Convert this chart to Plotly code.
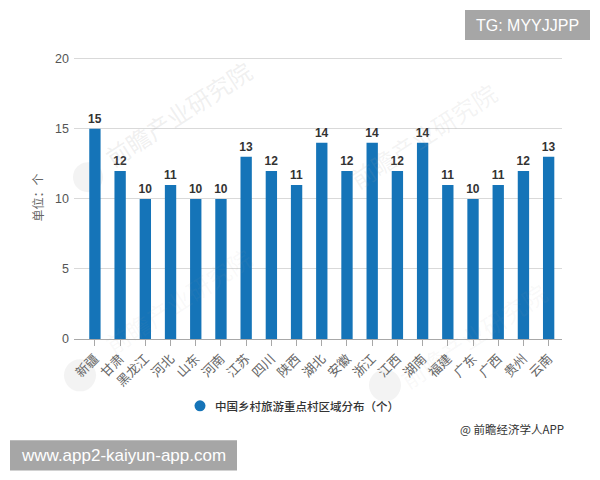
import plotly.graph_objects as go

# Data
provinces = ["新疆", "甘肃", "黑龙江", "河北", "山东", "河南", "江苏", "四川", "陕西", "湖北",
             "安徽", "浙江", "江西", "湖南", "福建", "广东", "广西", "贵州", "云南"]
villages = [15, 12, 10, 11, 10, 10, 13, 12, 11, 14, 12, 14, 12, 14, 11, 10, 11, 12, 13]
y_ticks = [0, 5, 10, 15, 20]
series_name = "中国乡村旅游重点村区域分布（个）"

BLUE = "#1574b8"
GREY_TAG = "#a6a6a6"
CJK = "Noto Sans CJK SC"

# the page body has an 8px margin, so the figure is 592x472 and starts at (8, 8)
FIG_W, FIG_H = 592, 472
# top sits 3px above the 20 gridline, plotly clips gridlines within 1px of the axis end
LEFT, RIGHT, TOP, BOTTOM = 74, 562, 55.9, 338.7


def px(x):
    return (x - LEFT) / (RIGHT - LEFT)


def py(y):
    return (BOTTOM - y) / (BOTTOM - TOP)


fig = go.Figure()

fig.add_trace(go.Bar(
    x=provinces,
    y=villages,
    marker=dict(color=BLUE, line=dict(width=0)),
    text=villages,
    textposition="outside",
    constraintext="none",
    cliponaxis=False,
    textfont=dict(family="Liberation Sans", size=12, color="#333333", weight="bold"),
    showlegend=False,
))

fig.update_layout(
    width=FIG_W,
    height=FIG_H,
    autosize=False,
    margin=dict(l=LEFT - 8, r=FIG_W + 8 - RIGHT, t=TOP - 8, b=FIG_H + 8 - BOTTOM),
    paper_bgcolor="white",
    plot_bgcolor="white",
    bargap=0.55,
    showlegend=False,
    font=dict(family=CJK, color="#666666"),
)

fig.update_xaxes(
    type="category",
    range=[-0.83, 18.53],
    showgrid=False,
    showline=True, linecolor="#a8a8a8", linewidth=1,
    ticks="outside", ticklen=6, tickcolor="#a8a8a8",
    tickangle=-45,
    tickfont=dict(family=CJK, size=13, color="#666666"),
)
fig.update_yaxes(
    range=[0, 20.2],
    tickvals=y_ticks,
    showgrid=True, gridcolor="#d9d9d9", gridwidth=1,
    zeroline=False,
    ticks="",
    ticklabelstandoff=4,
    tickfont=dict(family="Liberation Sans", size=12.5, color="#555555"),
    title=dict(text="单位：个", font=dict(family=CJK, size=12, color="#666666"), standoff=8),
)

# faint publisher watermarks, the lower two run across the bars so keep them lighter
for cx, cy, alpha in [(178, 113, 0.17), (423, 135, 0.13), (178, 300, 0.07), (473, 335, 0.08)]:
    fig.add_annotation(
        xref="paper", yref="paper", x=px(cx), y=py(cy),
        xanchor="center", yanchor="middle",
        text="前瞻产业研究院", showarrow=False, textangle=-33,
        font=dict(family=CJK, size=24, color=f"rgba(160,160,160,{alpha})"),
    )
for cx, cy, r in [(88, 177, 15), (80, 375, 16), (385, 385, 16)]:
    fig.add_shape(
        type="circle", xref="paper", yref="paper", layer="below",
        x0=px(cx - r), x1=px(cx + r), y0=py(cy + r), y1=py(cy - r),
        fillcolor="rgba(160,160,160,0.12)", line=dict(width=0),
    )

# legend key and label
fig.add_shape(
    type="circle", xref="paper", yref="paper",
    x0=px(194.5), x1=px(205.5), y0=py(411), y1=py(400),
    fillcolor=BLUE, line=dict(width=0),
)
fig.add_annotation(
    xref="paper", yref="paper", x=px(213), y=py(406), xanchor="left", yanchor="middle",
    text=series_name, showarrow=False,
    font=dict(family=CJK, size=11.5, color="#333333", weight=500),
)

fig.add_annotation(
    xref="paper", yref="paper", x=px(566), y=py(429), xanchor="right", yanchor="middle",
    text="@ 前瞻经济学人APP", showarrow=False,
    font=dict(family=CJK, size=11.5, color="#333333"),
)

# overlaid grey tags
for x0, x1, y0, y1, label, size in [
    (465, 590, 10, 40, "TG: MYYJJPP", 16),
    (10, 237, 440, 470, "www.app2-kaiyun-app.com", 17),
]:
    fig.add_shape(
        type="rect", xref="paper", yref="paper",
        x0=px(x0), x1=px(x1), y0=py(y1), y1=py(y0),
        fillcolor=GREY_TAG, line=dict(width=0),
    )
    fig.add_annotation(
        xref="paper", yref="paper", x=px((x0 + x1) / 2), y=py((y0 + y1) / 2),
        xanchor="center", yanchor="middle",
        text=label, showarrow=False,
        font=dict(family="Liberation Sans", size=size, color="white"),
    )

fig.write_html("out.html")
